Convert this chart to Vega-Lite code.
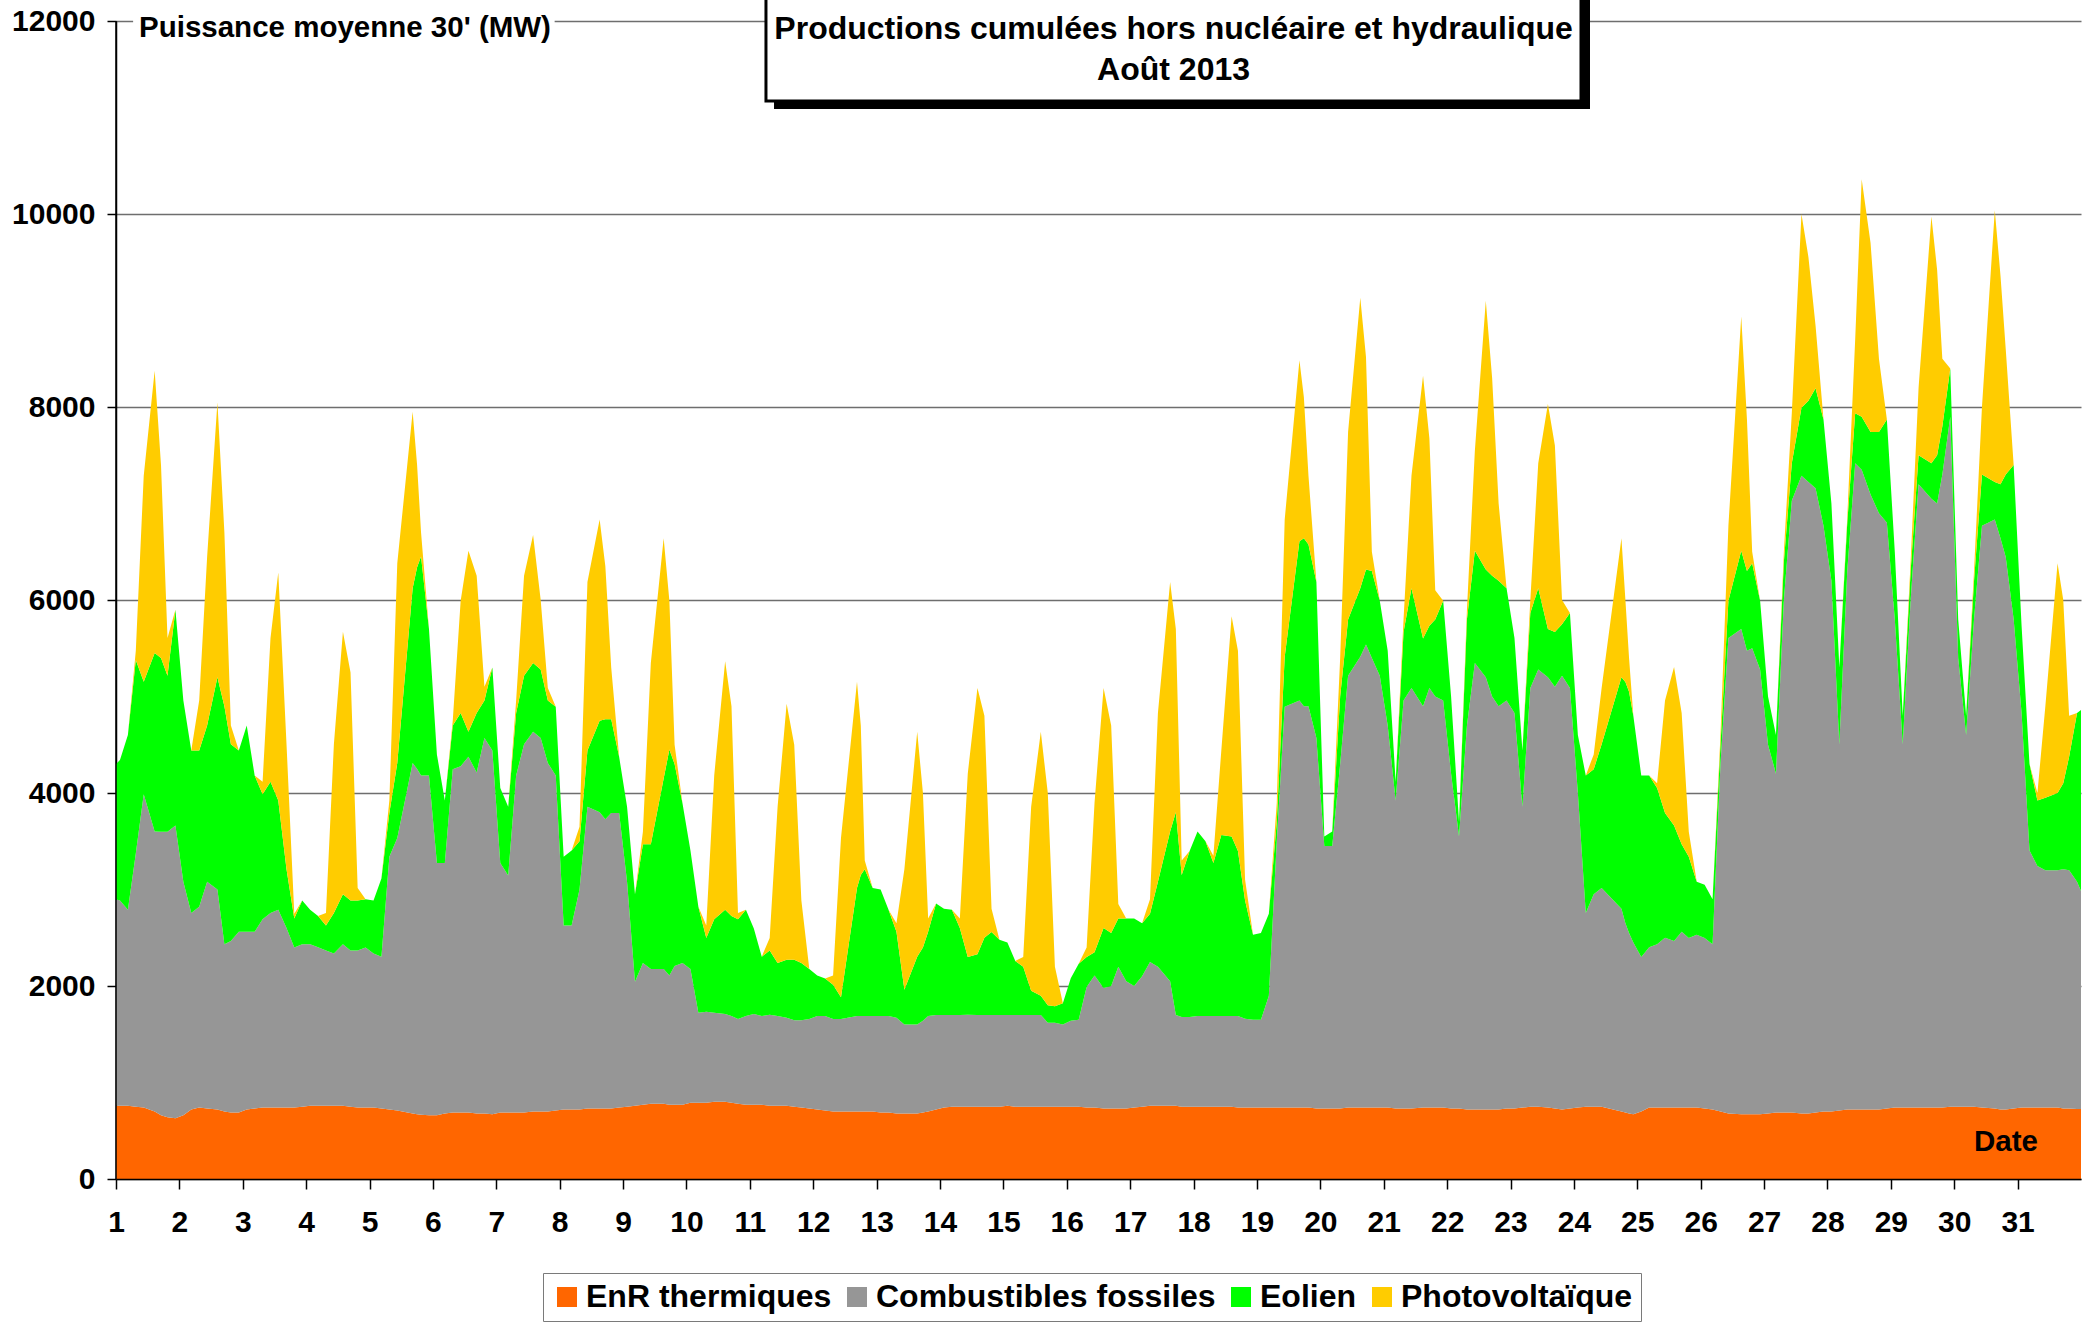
{
"$schema": "https://vega.github.io/schema/vega-lite/v6.json",
"width": 1965, "height": 1158,
"autosize": {"type": "none"},
"padding": {"left": 116, "top": 21, "right": 15, "bottom": 144},
"background": "white",
"config": {"view": {"stroke": null}, "font": "Liberation Sans"},
"data": {"values": [
{"t":1,"a":760,"b":2140,"c":1400,"d":0},
{"t":1.0625,"a":760,"b":2126,"c":1457,"d":0},
{"t":1.1875,"a":760,"b":2030,"c":1810,"d":0},
{"t":1.3125,"a":750,"b":2622,"c":2006,"d":97},
{"t":1.4375,"a":740,"b":3247,"c":1165,"d":2136},
{"t":1.61,"a":700,"b":2900,"c":1850,"d":2925},
{"t":1.71,"a":660,"b":2938,"c":1802,"d":2000},
{"t":1.8125,"a":640,"b":2958,"c":1618,"d":389},
{"t":1.9375,"a":630,"b":3033,"c":2237,"d":0},
{"t":2.0625,"a":660,"b":2421,"c":1877,"d":0},
{"t":2.1875,"a":720,"b":2037,"c":1683,"d":0},
{"t":2.3125,"a":740,"b":2082,"c":1618,"d":518},
{"t":2.4375,"a":730,"b":2351,"c":1618,"d":1747},
{"t":2.6,"a":720,"b":2280,"c":2200,"d":2850},
{"t":2.71,"a":700,"b":1733,"c":2467,"d":1800},
{"t":2.8125,"a":690,"b":1776,"c":2039,"d":195},
{"t":2.9375,"a":690,"b":1873,"c":1877,"d":0},
{"t":3.0625,"a":720,"b":1843,"c":2136,"d":0},
{"t":3.1875,"a":730,"b":1833,"c":1618,"d":0},
{"t":3.3125,"a":740,"b":1952,"c":1295,"d":129},
{"t":3.4375,"a":740,"b":2017,"c":1359,"d":1489},
{"t":3.56,"a":740,"b":2050,"c":1132,"d":2362},
{"t":3.69,"a":740,"b":1860,"c":610,"d":1295},
{"t":3.8125,"a":740,"b":1660,"c":300,"d":50},
{"t":3.9375,"a":750,"b":1683,"c":453,"d":0},
{"t":4.0625,"a":760,"b":1673,"c":357,"d":0},
{"t":4.1875,"a":760,"b":1641,"c":324,"d":0},
{"t":4.3125,"a":760,"b":1609,"c":259,"d":129},
{"t":4.4375,"a":760,"b":1576,"c":421,"d":1748},
{"t":4.58,"a":760,"b":1673,"c":518,"d":2719},
{"t":4.7,"a":750,"b":1619,"c":517,"d":2364},
{"t":4.8125,"a":740,"b":1629,"c":517,"d":130},
{"t":4.9375,"a":740,"b":1660,"c":500,"d":0},
{"t":5.0625,"a":740,"b":1596,"c":550,"d":0},
{"t":5.1875,"a":730,"b":1574,"c":809,"d":0},
{"t":5.3125,"a":720,"b":2620,"c":453,"d":129},
{"t":5.4375,"a":710,"b":2824,"c":777,"d":2070},
{"t":5.68,"a":680,"b":3631,"c":1811,"d":1828},
{"t":5.75,"a":670,"b":3580,"c":2090,"d":1060},
{"t":5.8125,"a":665,"b":3516,"c":2269,"d":250},
{"t":5.9375,"a":660,"b":3521,"c":1519,"d":0},
{"t":6.0625,"a":660,"b":2615,"c":1125,"d":0},
{"t":6.1875,"a":680,"b":2595,"c":647,"d":0},
{"t":6.3125,"a":690,"b":3556,"c":453,"d":51},
{"t":6.4375,"a":690,"b":3588,"c":550,"d":1165},
{"t":6.56,"a":690,"b":3685,"c":259,"d":1876},
{"t":6.69,"a":680,"b":3533,"c":615,"d":1424},
{"t":6.8125,"a":680,"b":3889,"c":389,"d":142},
{"t":6.9375,"a":670,"b":3770,"c":860,"d":0},
{"t":7.0625,"a":690,"b":2585,"c":776,"d":0},
{"t":7.1875,"a":690,"b":2456,"c":711,"d":0},
{"t":7.3125,"a":690,"b":3491,"c":647,"d":130},
{"t":7.4375,"a":690,"b":3815,"c":711,"d":1036},
{"t":7.58,"a":700,"b":3934,"c":712,"d":1327},
{"t":7.7,"a":700,"b":3869,"c":712,"d":719},
{"t":7.8125,"a":700,"b":3611,"c":647,"d":129},
{"t":7.9375,"a":710,"b":3471,"c":712,"d":0},
{"t":8.0625,"a":720,"b":1908,"c":712,"d":0},
{"t":8.1875,"a":720,"b":1908,"c":776,"d":0},
{"t":8.3125,"a":720,"b":2280,"c":500,"d":150},
{"t":8.4375,"a":730,"b":3127,"c":583,"d":1747},
{"t":8.63,"a":730,"b":3070,"c":950,"d":2084},
{"t":8.72,"a":730,"b":2998,"c":1036,"d":1586},
{"t":8.8125,"a":730,"b":3063,"c":971,"d":536},
{"t":8.9375,"a":740,"b":3053,"c":582,"d":0},
{"t":9.0625,"a":750,"b":2331,"c":776,"d":0},
{"t":9.1875,"a":760,"b":1285,"c":906,"d":0},
{"t":9.3125,"a":770,"b":1469,"c":1230,"d":129},
{"t":9.4375,"a":780,"b":1395,"c":1294,"d":1877},
{"t":9.64,"a":780,"b":1395,"c":1975,"d":2490},
{"t":9.73,"a":770,"b":1340,"c":2340,"d":1543},
{"t":9.8125,"a":770,"b":1437,"c":2093,"d":200},
{"t":9.9375,"a":770,"b":1469,"c":1651,"d":0},
{"t":10.0625,"a":790,"b":1385,"c":1229,"d":0},
{"t":10.1875,"a":790,"b":932,"c":1100,"d":0},
{"t":10.3125,"a":790,"b":944,"c":764,"d":130},
{"t":10.4375,"a":800,"b":922,"c":970,"d":1489},
{"t":10.61,"a":800,"b":909,"c":1081,"d":2575},
{"t":10.71,"a":790,"b":899,"c":1036,"d":2175},
{"t":10.8125,"a":780,"b":877,"c":1035,"d":65},
{"t":10.9375,"a":770,"b":919,"c":1101,"d":0},
{"t":11.0625,"a":770,"b":939,"c":886,"d":0},
{"t":11.1875,"a":770,"b":919,"c":615,"d":0},
{"t":11.3125,"a":760,"b":942,"c":667,"d":129},
{"t":11.4375,"a":760,"b":929,"c":550,"d":1618},
{"t":11.58,"a":760,"b":910,"c":602,"d":2653},
{"t":11.7,"a":750,"b":894,"c":628,"d":2228},
{"t":11.8125,"a":740,"b":904,"c":595,"d":647},
{"t":11.9375,"a":730,"b":927,"c":518,"d":0},
{"t":12.0625,"a":720,"b":969,"c":421,"d":0},
{"t":12.1875,"a":710,"b":979,"c":389,"d":0},
{"t":12.3125,"a":700,"b":957,"c":356,"d":97},
{"t":12.4375,"a":700,"b":957,"c":226,"d":1651},
{"t":12.69,"a":700,"b":989,"c":1327,"d":2136},
{"t":12.75,"a":700,"b":989,"c":1461,"d":1550},
{"t":12.8125,"a":700,"b":989,"c":1521,"d":90},
{"t":12.9375,"a":700,"b":989,"c":1327,"d":0},
{"t":13.0625,"a":690,"b":999,"c":1311,"d":0},
{"t":13.1875,"a":690,"b":999,"c":1101,"d":0},
{"t":13.3125,"a":680,"b":990,"c":893,"d":87},
{"t":13.4375,"a":680,"b":920,"c":360,"d":1250},
{"t":13.64,"a":680,"b":920,"c":704,"d":2330},
{"t":13.73,"a":690,"b":950,"c":760,"d":1600},
{"t":13.8125,"a":700,"b":989,"c":874,"d":137},
{"t":13.9375,"a":720,"b":980,"c":1154,"d":0},
{"t":14.0625,"a":740,"b":960,"c":1100,"d":0},
{"t":14.1875,"a":750,"b":950,"c":1090,"d":0},
{"t":14.3125,"a":750,"b":950,"c":900,"d":100},
{"t":14.4375,"a":750,"b":952,"c":598,"d":1900},
{"t":14.59,"a":750,"b":950,"c":630,"d":2757},
{"t":14.7,"a":750,"b":950,"c":800,"d":2300},
{"t":14.8125,"a":750,"b":950,"c":860,"d":240},
{"t":14.9375,"a":750,"b":950,"c":780,"d":0},
{"t":15.0625,"a":760,"b":940,"c":750,"d":0},
{"t":15.1875,"a":750,"b":950,"c":560,"d":0},
{"t":15.3125,"a":750,"b":950,"c":500,"d":100},
{"t":15.4375,"a":750,"b":950,"c":250,"d":1907},
{"t":15.59,"a":750,"b":950,"c":200,"d":2734},
{"t":15.7,"a":750,"b":870,"c":180,"d":2200},
{"t":15.8125,"a":750,"b":870,"c":170,"d":410},
{"t":15.9375,"a":750,"b":850,"c":220,"d":0},
{"t":16.0625,"a":750,"b":890,"c":440,"d":0},
{"t":16.1875,"a":750,"b":900,"c":580,"d":0},
{"t":16.3125,"a":740,"b":1250,"c":310,"d":100},
{"t":16.4375,"a":740,"b":1370,"c":240,"d":1550},
{"t":16.58,"a":730,"b":1250,"c":620,"d":2487},
{"t":16.7,"a":730,"b":1270,"c":550,"d":2150},
{"t":16.8125,"a":730,"b":1470,"c":500,"d":150},
{"t":16.9375,"a":730,"b":1320,"c":650,"d":0},
{"t":17.0625,"a":740,"b":1260,"c":700,"d":0},
{"t":17.1875,"a":750,"b":1350,"c":550,"d":0},
{"t":17.3125,"a":760,"b":1490,"c":500,"d":150},
{"t":17.4375,"a":760,"b":1440,"c":881,"d":1747},
{"t":17.63,"a":760,"b":1290,"c":1550,"d":2587},
{"t":17.72,"a":760,"b":940,"c":2100,"d":1900},
{"t":17.8125,"a":750,"b":930,"c":1470,"d":150},
{"t":17.9375,"a":750,"b":930,"c":1720,"d":0},
{"t":18.0625,"a":750,"b":940,"c":1910,"d":0},
{"t":18.1875,"a":750,"b":940,"c":1810,"d":0},
{"t":18.3125,"a":750,"b":940,"c":1585,"d":75},
{"t":18.4375,"a":750,"b":940,"c":1876,"d":874},
{"t":18.6,"a":750,"b":940,"c":1860,"d":2281},
{"t":18.7,"a":740,"b":950,"c":1710,"d":2075},
{"t":18.8125,"a":740,"b":920,"c":1226,"d":214},
{"t":18.9375,"a":740,"b":910,"c":880,"d":0},
{"t":19.0625,"a":740,"b":910,"c":900,"d":0},
{"t":19.1875,"a":740,"b":1160,"c":850,"d":0},
{"t":19.3125,"a":740,"b":2760,"c":200,"d":200},
{"t":19.4375,"a":740,"b":4153,"c":518,"d":1423},
{"t":19.67,"a":740,"b":4218,"c":1650,"d":1877},
{"t":19.74,"a":740,"b":4160,"c":1740,"d":1460},
{"t":19.8125,"a":740,"b":4160,"c":1675,"d":713},
{"t":19.9375,"a":730,"b":3839,"c":1618,"d":0},
{"t":20.0625,"a":730,"b":2720,"c":100,"d":0},
{"t":20.1875,"a":730,"b":2720,"c":150,"d":0},
{"t":20.3125,"a":730,"b":3570,"c":700,"d":400},
{"t":20.4375,"a":740,"b":4476,"c":583,"d":1942},
{"t":20.63,"a":740,"b":4671,"c":711,"d":3010},
{"t":20.72,"a":740,"b":4800,"c":777,"d":2200},
{"t":20.8125,"a":740,"b":4660,"c":900,"d":200},
{"t":20.9375,"a":740,"b":4476,"c":777,"d":0},
{"t":21.0625,"a":740,"b":3959,"c":776,"d":0},
{"t":21.1875,"a":730,"b":3192,"c":194,"d":0},
{"t":21.3125,"a":730,"b":4228,"c":711,"d":131},
{"t":21.4375,"a":730,"b":4357,"c":1035,"d":1166},
{"t":21.62,"a":740,"b":4160,"c":700,"d":2723},
{"t":21.72,"a":740,"b":4347,"c":647,"d":1942},
{"t":21.8125,"a":740,"b":4260,"c":799,"d":301},
{"t":21.9375,"a":740,"b":4218,"c":1035,"d":0},
{"t":22.0625,"a":730,"b":3470,"c":800,"d":0},
{"t":22.1875,"a":730,"b":2820,"c":150,"d":0},
{"t":22.3125,"a":720,"b":3980,"c":1100,"d":100},
{"t":22.4375,"a":720,"b":4626,"c":1164,"d":1036},
{"t":22.61,"a":720,"b":4480,"c":1117,"d":2783},
{"t":22.71,"a":720,"b":4280,"c":1252,"d":2048},
{"t":22.8125,"a":720,"b":4180,"c":1300,"d":800},
{"t":22.9375,"a":730,"b":4228,"c":1164,"d":0},
{"t":23.0625,"a":730,"b":4098,"c":777,"d":0},
{"t":23.1875,"a":740,"b":3117,"c":583,"d":0},
{"t":23.3125,"a":750,"b":4337,"c":777,"d":136},
{"t":23.4375,"a":750,"b":4531,"c":841,"d":1295},
{"t":23.59,"a":740,"b":4460,"c":500,"d":2332},
{"t":23.7,"a":730,"b":4370,"c":569,"d":1931},
{"t":23.8125,"a":720,"b":4496,"c":534,"d":250},
{"t":23.9375,"a":730,"b":4357,"c":777,"d":0},
{"t":24.0625,"a":740,"b":3260,"c":600,"d":0},
{"t":24.1875,"a":750,"b":2007,"c":1424,"d":0},
{"t":24.3125,"a":750,"b":2201,"c":1295,"d":154},
{"t":24.4375,"a":750,"b":2266,"c":1489,"d":582},
{"t":24.75,"a":700,"b":2100,"c":2400,"d":1440},
{"t":24.8125,"a":690,"b":1960,"c":2500,"d":850},
{"t":24.87,"a":680,"b":1870,"c":2500,"d":350},
{"t":24.9375,"a":670,"b":1780,"c":2350,"d":0},
{"t":25.0625,"a":700,"b":1600,"c":1881,"d":0},
{"t":25.1875,"a":740,"b":1661,"c":1780,"d":0},
{"t":25.3125,"a":740,"b":1693,"c":1618,"d":49},
{"t":25.4375,"a":740,"b":1760,"c":1293,"d":1165},
{"t":25.58,"a":740,"b":1726,"c":1197,"d":1644},
{"t":25.7,"a":740,"b":1823,"c":906,"d":1359},
{"t":25.8125,"a":740,"b":1758,"c":842,"d":258},
{"t":25.9375,"a":740,"b":1790,"c":551,"d":0},
{"t":26.0625,"a":730,"b":1768,"c":550,"d":0},
{"t":26.1875,"a":720,"b":1713,"c":467,"d":0},
{"t":26.3125,"a":700,"b":3600,"c":200,"d":100},
{"t":26.4375,"a":680,"b":4925,"c":388,"d":777},
{"t":26.64,"a":670,"b":5030,"c":810,"d":2428},
{"t":26.73,"a":670,"b":4805,"c":825,"d":1570},
{"t":26.8125,"a":670,"b":4830,"c":881,"d":119},
{"t":26.9375,"a":670,"b":4611,"c":712,"d":0},
{"t":27.0625,"a":680,"b":3820,"c":500,"d":0},
{"t":27.1875,"a":690,"b":3510,"c":400,"d":0},
{"t":27.3125,"a":690,"b":5310,"c":400,"d":100},
{"t":27.4375,"a":690,"b":6339,"c":388,"d":518},
{"t":27.59,"a":680,"b":6608,"c":705,"d":2007},
{"t":27.7,"a":680,"b":6543,"c":842,"d":1488},
{"t":27.8125,"a":690,"b":6468,"c":1036,"d":647},
{"t":27.9375,"a":700,"b":6070,"c":1100,"d":0},
{"t":28.0625,"a":700,"b":5500,"c":800,"d":0},
{"t":28.1875,"a":710,"b":3795,"c":795,"d":0},
{"t":28.3125,"a":720,"b":5580,"c":500,"d":50},
{"t":28.4375,"a":720,"b":6697,"c":518,"d":765},
{"t":28.54,"a":720,"b":6630,"c":550,"d":2460},
{"t":28.68,"a":720,"b":6373,"c":648,"d":1959},
{"t":28.8125,"a":720,"b":6179,"c":842,"d":759},
{"t":28.9375,"a":730,"b":6070,"c":1070,"d":0},
{"t":29.0625,"a":740,"b":5060,"c":700,"d":0},
{"t":29.1875,"a":740,"b":3765,"c":295,"d":0},
{"t":29.3125,"a":740,"b":5260,"c":300,"d":100},
{"t":29.4375,"a":740,"b":6460,"c":300,"d":700},
{"t":29.64,"a":740,"b":6310,"c":367,"d":2557},
{"t":29.73,"a":740,"b":6260,"c":500,"d":1923},
{"t":29.8125,"a":740,"b":6560,"c":500,"d":700},
{"t":29.9375,"a":750,"b":7150,"c":500,"d":0},
{"t":30.0625,"a":750,"b":4650,"c":400,"d":0},
{"t":30.1875,"a":750,"b":3850,"c":200,"d":0},
{"t":30.3125,"a":750,"b":5050,"c":400,"d":100},
{"t":30.4375,"a":740,"b":6030,"c":530,"d":700},
{"t":30.64,"a":730,"b":6104,"c":389,"d":2816},
{"t":30.73,"a":720,"b":5920,"c":560,"d":2159},
{"t":30.8125,"a":720,"b":5726,"c":854,"d":1300},
{"t":30.9375,"a":730,"b":5070,"c":1600,"d":0},
{"t":31.0625,"a":740,"b":4088,"c":906,"d":0},
{"t":31.1875,"a":740,"b":2664,"c":896,"d":0},
{"t":31.3125,"a":740,"b":2503,"c":679,"d":78},
{"t":31.4375,"a":740,"b":2460,"c":750,"d":950},
{"t":31.63,"a":740,"b":2460,"c":800,"d":2380},
{"t":31.72,"a":730,"b":2480,"c":890,"d":1900},
{"t":31.8125,"a":730,"b":2470,"c":1175,"d":425},
{"t":31.9375,"a":725,"b":2356,"c":1747,"d":0},
{"t":32,"a":725,"b":2259,"c":1876,"d":0}
]},
"layer": [
{
"transform": [{"fold": ["a","b","c","d"], "as": ["k","v"]}],
"mark": {"type": "area", "interpolate": "linear"},
"encoding": {
"x": {"field": "t", "type": "quantitative",
 "scale": {"domain": [1,32], "nice": false, "zero": false},
 "axis": {"title": null, "grid": false, "zindex": 1,
  "values": [1,1.5,2,2.5,3,3.5,4,4.5,5,5.5,6,6.5,7,7.5,8,8.5,9,9.5,10,10.5,11,11.5,12,12.5,13,13.5,14,14.5,15,15.5,16,16.5,17,17.5,18,18.5,19,19.5,20,20.5,21,21.5,22,22.5,23,23.5,24,24.5,25,25.5,26,26.5,27,27.5,28,28.5,29,29.5,30,30.5,31,31.5],
  "labelExpr": "datum.value % 1 === 0 ? datum.value : ''",
  "tickSize": 10, "tickColor": "black", "tickWidth": 1.5,
  "domainColor": "black", "domainWidth": 1.5,
  "labelFont": "Liberation Sans", "labelFontSize": 30, "labelFontWeight": "bold", "labelColor": "black",
  "labelPadding": 18, "labelFlush": false, "labelOverlap": false, "labelBound": false}},
"y": {"field": "v", "type": "quantitative", "stack": "zero",
 "scale": {"domain": [0,12000], "nice": false},
 "axis": {"title": null, "grid": true, "zindex": 0, "values": [0,2000,4000,6000,8000,10000,12000], "format": "d",
  "gridColor": "#6e6e6e", "gridWidth": 1.5,
  "tickSize": 9, "tickColor": "black", "tickWidth": 1.5,
  "domainColor": "black", "domainWidth": 1.5,
  "labelFont": "Liberation Sans", "labelFontSize": 30, "labelFontWeight": "bold", "labelColor": "black",
  "labelPadding": 12}},
"color": {"field": "k", "type": "nominal",
 "scale": {"domain": ["a","b","c","d"], "range": ["#FF6600","#969696","#00FF00","#FFCC00"]},
 "legend": {"orient": "none", "legendX": 427, "legendY": 1252, "direction": "horizontal", "columns": 4,
  "title": null, "symbolType": "square", "symbolSize": 400, "symbolStrokeWidth": 0, "symbolOpacity": 1,
  "labelFont": "Liberation Sans", "labelFontSize": 32, "labelFontWeight": "bold", "labelColor": "black",
  "labelOffset": 3, "columnPadding": 9, "padding": 8, "strokeColor": "#7a7a7a", "fillColor": "white", "labelLimit": 0,
  "labelExpr": "{'a':'EnR thermiques','b':'Combustibles fossiles','c':'Eolien','d':'Photovoltaïque'}[datum.label]"}},
"order": {"field": "k", "sort": "ascending"}
}
},
{
"data": {"values": [{}]},
"mark": {"type": "rule", "color": "black", "strokeWidth": 1.5},
"encoding": {"x": {"datum": 1}, "y": {"datum": 0}, "y2": {"datum": 12000}}
},
{
"data": {"values": [{}]},
"mark": {"type": "rect", "color": "black"},
"encoding": {"x": {"datum": 11.381}, "x2": {"datum": 24.254}, "y": {"datum": 12300}, "y2": {"datum": 11088}}
},
{
"data": {"values": [{}]},
"mark": {"type": "rect", "fill": "white", "stroke": "black", "strokeWidth": 3},
"encoding": {"x": {"datum": 11.254}, "x2": {"datum": 24.112}, "y": {"datum": 12300}, "y2": {"datum": 11171}}
},
{
"data": {"values": [{}]},
"mark": {"type": "text", "text": ["Productions cumulées hors nucléaire et hydraulique", "Août 2013"], "lineHeight": 41,
 "font": "Liberation Sans", "fontSize": 32, "fontWeight": "bold", "color": "black", "align": "center", "baseline": "alphabetic"},
"encoding": {"x": {"datum": 17.684}, "y": {"datum": 11813}}
},
{
"data": {"values": [{}]},
"mark": {"type": "rect", "fill": "white"},
"encoding": {"x": {"datum": 1.27}, "x2": {"datum": 7.92}, "y": {"datum": 11740}, "y2": {"datum": 12080}}
},
{
"data": {"values": [{}]},
"mark": {"type": "text", "text": "Puissance moyenne 30' (MW)",
 "font": "Liberation Sans", "fontSize": 29.5, "fontWeight": "bold", "color": "black", "align": "left", "baseline": "alphabetic"},
"encoding": {"x": {"datum": 1.363}, "y": {"datum": 11834}}
},
{
"data": {"values": [{}]},
"mark": {"type": "text", "text": "Date",
 "font": "Liberation Sans", "fontSize": 29.5, "fontWeight": "bold", "color": "black", "align": "center", "baseline": "alphabetic"},
"encoding": {"x": {"datum": 30.817}, "y": {"datum": 290}}
}
]
}
